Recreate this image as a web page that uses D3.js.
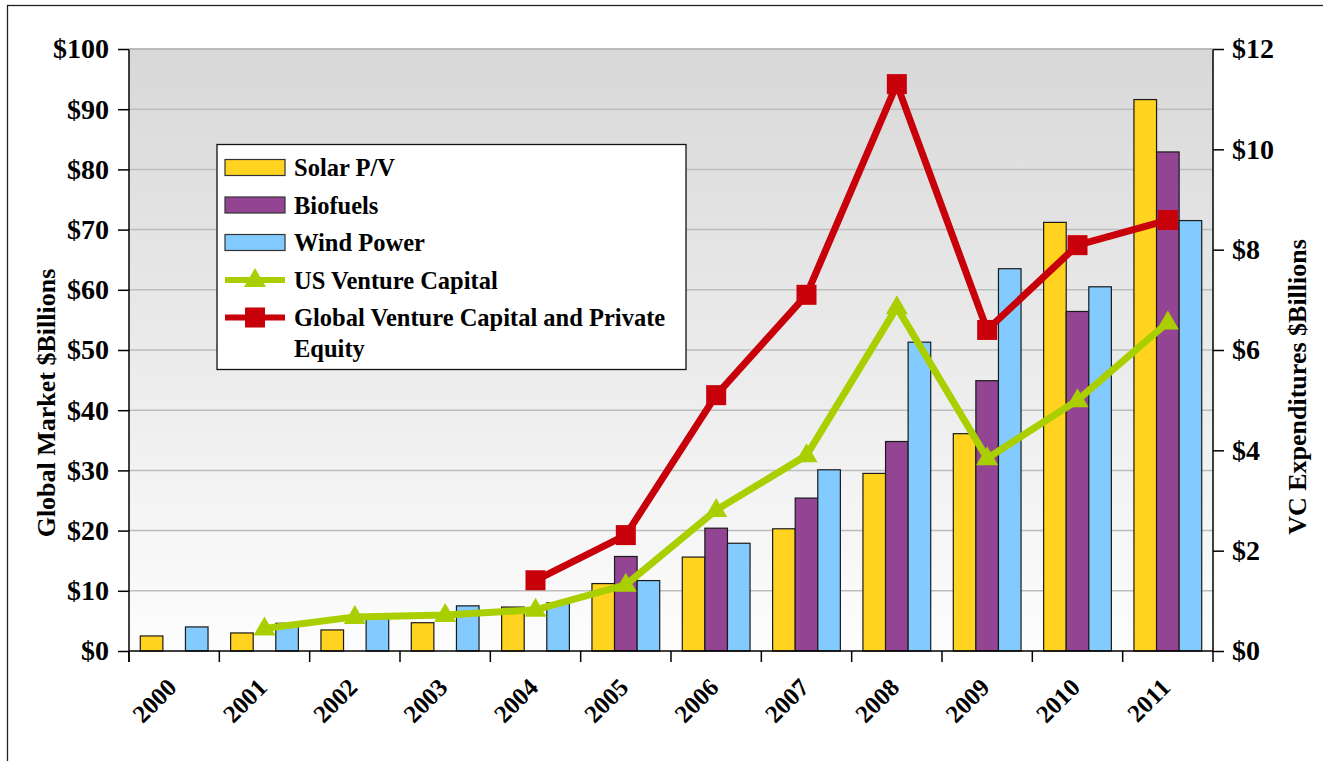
<!DOCTYPE html>
<html>
<head>
<meta charset="utf-8">
<script src="https://cdn.jsdelivr.net/npm/d3@7"></script>
<style>
  body { margin: 0; background: #fff; }
  text { font-family: "Liberation Serif", "Times New Roman", serif; font-weight: bold; }
</style>
</head>
<body>
<script>
// values
var years = ["2000","2001","2002","2003","2004","2005","2006","2007","2008","2009","2010","2011"];
var solar    = [2.5, 3.0, 3.5, 4.7, 7.3, 11.2, 15.6, 20.3, 29.5, 36.1, 71.2, 91.6];
var biofuels = [null, null, null, null, null, 15.7, 20.4, 25.4, 34.8, 44.9, 56.4, 82.9];
var wind     = [4.0, 4.6, 5.8, 7.5, 8.0, 11.7, 17.9, 30.1, 51.3, 63.5, 60.5, 71.5];
var usVC     = [null, 0.45, 0.68, 0.72, 0.82, 1.32, 2.81, 3.9, 6.85, 3.84, 5.0, 6.55];
var globalVC = [null, null, null, null, 1.41, 2.31, 5.1, 7.1, 11.3, 6.4, 8.09, 8.59];
var leftTicks = [0,10,20,30,40,50,60,70,80,90,100];
var rightTicks = [0,2,4,6,8,10,12];

var barSeries = [
  {name: "Solar P/V", values: solar, color: "#ffd320"},
  {name: "Biofuels", values: biofuels, color: "#934593"},
  {name: "Wind Power", values: wind, color: "#83caff"}
];
var lineSeries = [
  {name: "US Venture Capital", values: usVC, color: "#aacf00", marker: "triangle"},
  {name: "Global Venture Capital and Private Equity", values: globalVC, color: "#c8000a", marker: "square"}
];

var W = 1323, H = 761;
var margin = {top: 49, right: 110, bottom: 110, left: 129};

var svg = d3.select("body").append("svg")
  .attr("width", W).attr("height", H);

// outer frame
svg.append("rect")
  .attr("x", 7.5).attr("y", 5.5)
  .attr("width", W + 20).attr("height", H + 20)
  .attr("fill", "none").attr("stroke", "#222").attr("stroke-width", 1.3);

var x = d3.scaleBand().domain(years).range([margin.left, W - margin.right]).padding(0);
var yL = d3.scaleLinear().domain([0, 100]).range([H - margin.bottom, margin.top]);
var yR = d3.scaleLinear().domain([0, 12]).range([H - margin.bottom, margin.top]);
var bw = x.bandwidth();

var defs = svg.append("defs");
var grad = defs.append("linearGradient").attr("id", "bg")
  .attr("x1", 0).attr("y1", 0).attr("x2", 0).attr("y2", 1);
grad.append("stop").attr("offset", "0%").attr("stop-color", "#d8d8d8");
grad.append("stop").attr("offset", "100%").attr("stop-color", "#fdfdfd");

svg.append("rect")
  .attr("x", margin.left).attr("y", margin.top)
  .attr("width", W - margin.left - margin.right)
  .attr("height", H - margin.top - margin.bottom)
  .attr("fill", "url(#bg)");

// grid
svg.append("g").selectAll("line")
  .data(leftTicks.slice(1))
  .enter().append("line")
  .attr("x1", margin.left).attr("x2", W - margin.right)
  .attr("y1", function(d){ return yL(d); })
  .attr("y2", function(d){ return yL(d); })
  .attr("stroke", "#bdbdbd").attr("stroke-width", 1.5);

// bars
barSeries.forEach(function(s, si){
  svg.append("g").selectAll("rect")
    .data(years.map(function(y, i){ return {year: y, v: s.values[i]}; }).filter(function(d){ return d.v != null; }))
    .enter().append("rect")
    .attr("x", function(d){ return x(d.year) + bw / 8 + si * bw / 4; })
    .attr("y", function(d){ return yL(d.v); })
    .attr("width", bw / 4)
    .attr("height", function(d){ return yL(0) - yL(d.v); })
    .attr("fill", s.color)
    .attr("stroke", "#1a1a1a").attr("stroke-width", 1.2);
});

// axes
var axisL = svg.append("g")
  .attr("transform", "translate(" + margin.left + ",0)")
  .call(d3.axisLeft(yL).tickValues(leftTicks).tickFormat(function(d){ return "$" + d; }).tickSize(11).tickPadding(9));
var axisR = svg.append("g")
  .attr("transform", "translate(" + (W - margin.right) + ",0)")
  .call(d3.axisRight(yR).tickValues(rightTicks).tickFormat(function(d){ return "$" + d; }).tickSize(11).tickPadding(8));
[axisL, axisR].forEach(function(a){
  a.attr("font-family", null);
  a.select(".domain").remove();
  a.selectAll("text").attr("font-size", "28px").attr("fill", "#000");
  a.selectAll("line").attr("stroke", "#000").attr("stroke-width", 1.5);
});

// vertical axis lines reaching below the baseline
[margin.left, W - margin.right].forEach(function(px){
  svg.append("line")
    .attr("x1", px).attr("x2", px)
    .attr("y1", margin.top).attr("y2", yL(0) + 11)
    .attr("stroke", "#000").attr("stroke-width", 1.5);
});
// top edge of plot
svg.append("line")
  .attr("x1", margin.left).attr("x2", W - margin.right)
  .attr("y1", margin.top).attr("y2", margin.top)
  .attr("stroke", "#b5b5b5").attr("stroke-width", 1.5);

// x axis line + tick marks at band boundaries
svg.append("line")
  .attr("x1", margin.left).attr("x2", W - margin.right)
  .attr("y1", yL(0)).attr("y2", yL(0))
  .attr("stroke", "#000").attr("stroke-width", 1.5);
svg.append("g").selectAll("line")
  .data(years)
  .enter().append("line")
  .attr("x1", function(d){ return x(d); }).attr("x2", function(d){ return x(d); })
  .attr("y1", yL(0)).attr("y2", yL(0) + 11)
  .attr("stroke", "#000").attr("stroke-width", 1.5);

svg.append("g").selectAll("text")
  .data(years)
  .enter().append("text")
  .attr("transform", function(d){ return "translate(" + (x(d) + bw / 2 + 4) + "," + (yL(0) + 38) + ") rotate(-45)"; })
  .attr("text-anchor", "end")
  .attr("font-size", "25px")
  .text(function(d){ return d; });

// axis titles
svg.append("text")
  .attr("transform", "translate(46,403) rotate(-90)")
  .attr("text-anchor", "middle").attr("dy", "0.35em")
  .attr("font-size", "26px")
  .text("Global Market $Billions");
svg.append("text")
  .attr("transform", "translate(1297,387) rotate(-90)")
  .attr("text-anchor", "middle").attr("dy", "0.35em")
  .attr("font-size", "26px")
  .text("VC Expenditures $Billions");

// lines
function drawMarker(g, type, color, cx, cy){
  if (type === "square") {
    g.append("rect").attr("x", cx - 10).attr("y", cy - 10)
      .attr("width", 20).attr("height", 20).attr("fill", color);
  } else {
    g.append("path")
      .attr("d", "M" + cx + "," + (cy - 12) + "L" + (cx + 11) + "," + (cy + 7) + "L" + (cx - 11) + "," + (cy + 7) + "Z")
      .attr("fill", color);
  }
}

lineSeries.forEach(function(s){
  var pts = years.map(function(y, i){ return {year: y, v: s.values[i]}; }).filter(function(d){ return d.v != null; });
  var line = d3.line()
    .x(function(d){ return x(d.year) + bw / 2; })
    .y(function(d){ return yR(d.v); });
  var g = svg.append("g");
  g.append("path").datum(pts)
    .attr("d", line)
    .attr("fill", "none").attr("stroke", s.color).attr("stroke-width", 7)
    .attr("stroke-linejoin", "miter");
  pts.forEach(function(d){
    drawMarker(g, s.marker, s.color, x(d.year) + bw / 2, yR(d.v));
  });
});

// legend
var lg = svg.append("g").attr("transform", "translate(217,144.5)");
lg.append("rect").attr("width", 469).attr("height", 225)
  .attr("fill", "#fff").attr("stroke", "#111").attr("stroke-width", 1.3);
var rowY = [23, 60.5, 98, 135.5, 173];
barSeries.forEach(function(s, i){
  lg.append("rect").attr("x", 8).attr("y", rowY[i] - 8).attr("width", 60).attr("height", 16)
    .attr("fill", s.color).attr("stroke", "#333").attr("stroke-width", 1.2);
  lg.append("text").attr("x", 77).attr("y", rowY[i]).attr("dy", "0.35em")
    .attr("font-size", "24.5px").text(s.name);
});
lineSeries.forEach(function(s, j){
  var i = j + 3;
  var g = lg.append("g");
  g.append("line").attr("x1", 8).attr("x2", 68).attr("y1", rowY[i]).attr("y2", rowY[i])
    .attr("stroke", s.color).attr("stroke-width", 6);
  drawMarker(g, s.marker, s.color, 38, rowY[i]);
});
lg.append("text").attr("x", 77).attr("y", rowY[3]).attr("dy", "0.35em")
  .attr("font-size", "24.5px").text(lineSeries[0].name);
lg.append("text").attr("x", 77).attr("y", rowY[4]).attr("dy", "0.35em")
  .attr("font-size", "24.5px").text("Global Venture Capital and Private");
lg.append("text").attr("x", 77).attr("y", rowY[4] + 31).attr("dy", "0.35em")
  .attr("font-size", "24.5px").text("Equity");
</script>
</body>
</html>
